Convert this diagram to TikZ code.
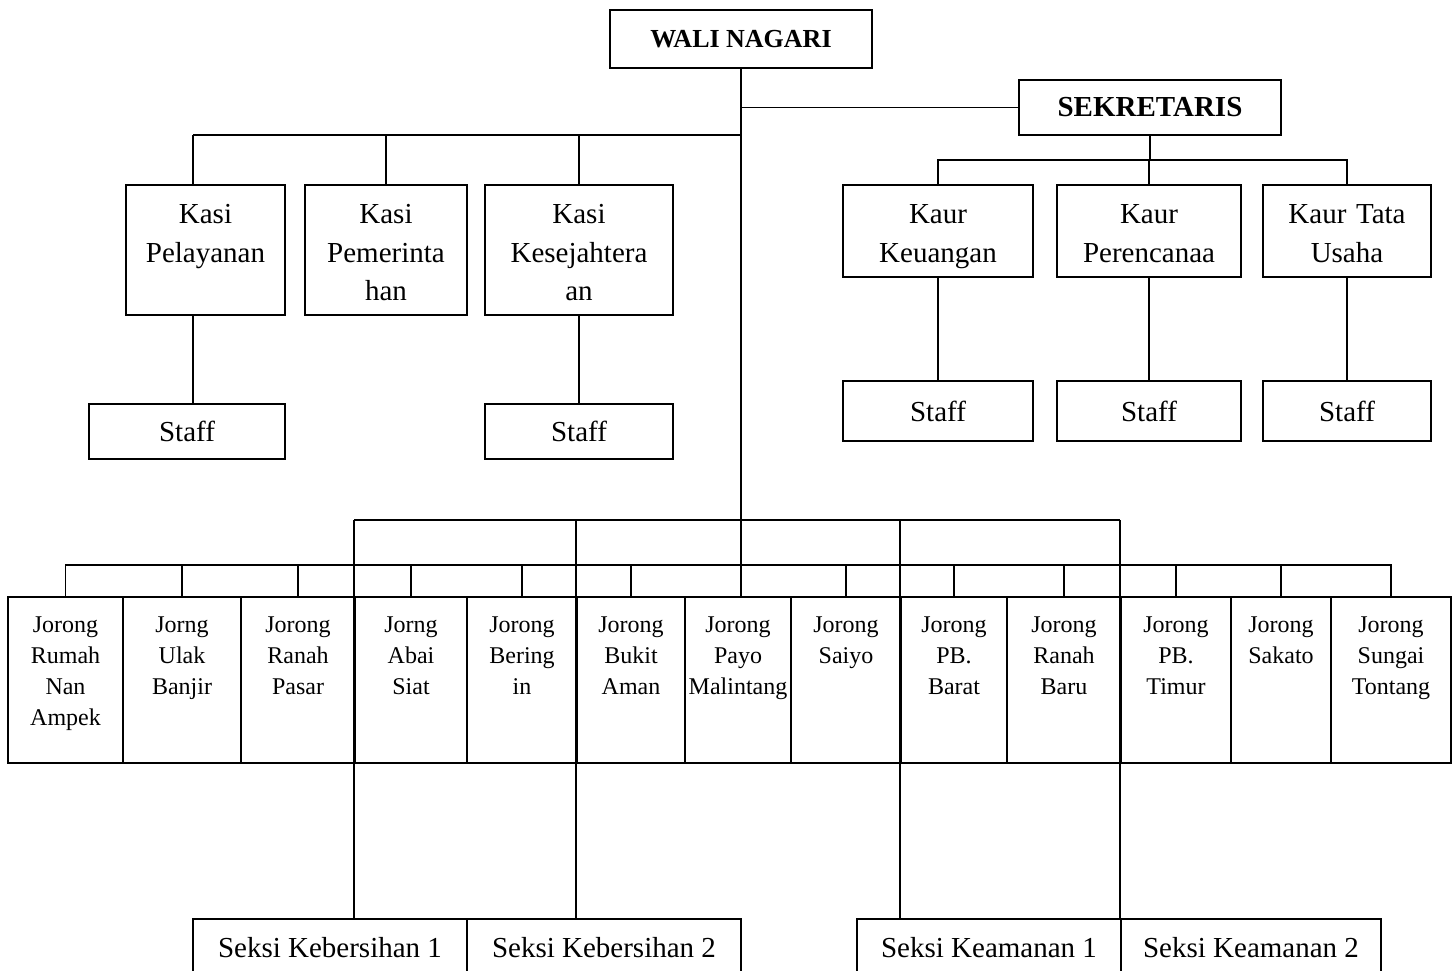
\documentclass[tikz,border=0pt]{standalone}
\usepackage{fontspec}
\setmainfont{Liberation Serif}

\begin{document}
\begin{tikzpicture}[x=0.5pt, y=-0.5pt, line width=0.9pt,
    box/.style={draw, inner sep=0pt},
    kasibox/.style={box, text width=#1, align=center, font=\boxfont, text height=19.3pt, text depth=45.7pt},
    kaurbox/.style={box, text width=#1, align=center, font=\boxfont, text height=19.3pt, text depth=26.7pt},
    staffbox/.style={box, minimum width=#1, minimum height=27.5pt, font=\boxfont},
    jorongbox/.style={box, text width=#1, align=center, font=\jorongfont, text height=17.5pt, text depth=65.5pt},
    seksibox/.style={box, minimum width=#1, minimum height=29pt, font=\boxfont}]

    % --- Definitions ---
    \def\boxfont{\fontsize{14.5}{19.3}\selectfont}
    \def\jorongfont{\fontsize{12}{15.5}\selectfont}

    \useasboundingbox (0,0) rectangle (1452,970);
    \clip (0,0) rectangle (1452,970);

    % --- Top ---
    \node[box, minimum width=131pt, minimum height=29pt, font=\fontsize{13}{15}\selectfont\bfseries] (wali) at (741,39) {WALI NAGARI};
    \node[box, minimum width=131pt, minimum height=27.5pt, font=\boxfont\bfseries] (sek) at (1150,107.5) {SEKRETARIS};

    % --- Kasi ---
    \node[kasibox=79.5pt] (kasi1) at (205.5,250) {Kasi\\Pelayanan};
    \node[kasibox=81pt] (kasi2) at (386,250) {Kasi\\Pemerinta\\han};
    \node[kasibox=94pt] (kasi3) at (579,250) {Kasi\\Kesejahtera\\an};
    \node[staffbox=98pt] (st1) at (187,431.5) {Staff};
    \node[staffbox=94pt] (st3) at (579,431.5) {Staff};

    % --- Kaur ---
    \node[kaurbox=95pt] (kaur1) at (938,231) {Kaur\\Keuangan};
    \node[kaurbox=92pt] (kaur2) at (1149,231) {Kaur\\Perencanaa};
    \node[kaurbox=84pt] (kaur3) at (1347,231) {Kaur Tata\\Usaha};
    \node[staffbox=95pt, minimum height=30pt] (st4) at (938,411) {Staff};
    \node[staffbox=92pt, minimum height=30pt] (st5) at (1149,411) {Staff};
    \node[staffbox=84pt, minimum height=30pt] (st6) at (1347,411) {Staff};

    % --- Jorong ---
    \node[jorongbox=57.5pt] (j1) at (65.5,680) {Jorong\\Rumah\\Nan\\Ampek};
    \node[jorongbox=59pt] (j2) at (182,680) {Jorng\\Ulak\\Banjir};
    \node[jorongbox=57pt] (j3) at (298,680) {Jorong\\Ranah\\Pasar};
    \node[jorongbox=56pt] (j4) at (411,680) {Jorng\\Abai\\Siat};
    \node[jorongbox=55pt] (j5) at (522,680) {Jorong\\Bering\\in};
    \node[jorongbox=54pt] (j6) at (631,680) {Jorong\\Bukit\\Aman};
    \node[jorongbox=53pt] (j7) at (738,680) {Jorong\\Payo\\Malintang};
    \node[jorongbox=55pt] (j8) at (846,680) {Jorong\\Saiyo};
    \node[jorongbox=53pt] (j9) at (954,680) {Jorong\\PB.\\Barat};
    \node[jorongbox=57pt] (j10) at (1064,680) {Jorong\\Ranah\\Baru};
    \node[jorongbox=55pt] (j11) at (1176,680) {Jorong\\PB.\\Timur};
    \node[jorongbox=50pt] (j12) at (1281,680) {Jorong\\Sakato};
    \node[jorongbox=60pt] (j13) at (1391,680) {Jorong\\Sungai\\Tontang};

    % --- Seksi ---
    \node[seksibox=137pt] (seksi1) at (330,948) {Seksi Kebersihan 1};
    \node[seksibox=137pt] (seksi2) at (604,948) {Seksi Kebersihan 2};
    \node[seksibox=132pt] (seksi3) at (989,948) {Seksi Keamanan 1};
    \node[seksibox=130pt] (seksi4) at (1251,948) {Seksi Keamanan 2};

    % --- Lines ---
    \coordinate (kasibus) at (193,135);
    \coordinate (kaurbus) at (1149,160);
    \coordinate (gbus) at (741,520);
    \coordinate (jbus) at (741,565);

    \draw (wali) -- (wali |- j7.north);
    \draw (sek.west) -- (sek.west -| wali);

    \draw (kasibus) -- (kasibus -| wali);
    \draw (kasibus) -- (kasibus |- kasi1.north);
    \draw (kasi2.north) -- (kasi2.north |- kasibus);
    \draw (kasi3.north) -- (kasi3.north |- kasibus);
    \draw (kasibus |- kasi1.south) -- (kasibus |- st1.north);
    \draw (kasi3) -- (st3);

    \draw (sek) -- (sek |- kaurbus);
    \draw (kaur1.north) |- (kaurbus) -| (kaur3.north);
    \draw (kaur2) -- (kaur2 |- kaurbus);
    \draw (kaur1) -- (st4);
    \draw (kaur2) -- (st5);
    \draw (kaur3) -- (st6);

    \draw (j1.north) |- (jbus) -| (j13.north);
    \draw (j2.north) -- (j2.north |- jbus);
    \draw (j3.north) -- (j3.north |- jbus);
    \draw (j4.north) -- (j4.north |- jbus);
    \draw (j5.north) -- (j5.north |- jbus);
    \draw (j6.north) -- (j6.north |- jbus);
    \draw (j8.north) -- (j8.north |- jbus);
    \draw (j9.north) -- (j9.north |- jbus);
    \draw (j10.north) -- (j10.north |- jbus);
    \draw (j11.north) -- (j11.north |- jbus);
    \draw (j12.north) -- (j12.north |- jbus);

    \draw (j4.north west |- gbus) -- (j11.north west |- gbus);
    \draw (j4.north west |- gbus) -- (j4.north west |- seksi1.north);
    \draw (j6.north west |- gbus) -- (j6.north west |- seksi2.north);
    \draw (j9.north west |- gbus) -- (j9.north west |- seksi3.north);
    \draw (j11.north west |- gbus) -- (j11.north west |- seksi4.north);

\end{tikzpicture}
\end{document}
